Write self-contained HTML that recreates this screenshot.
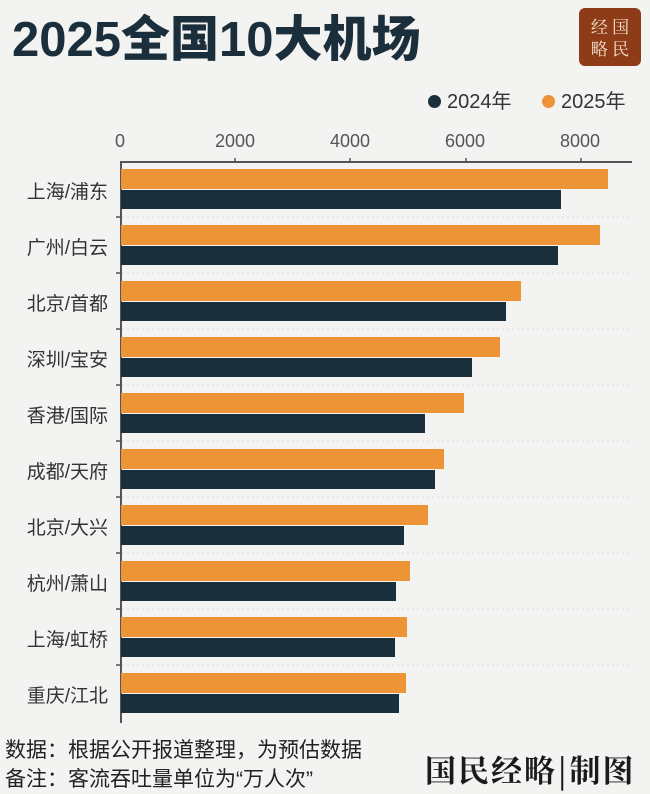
<!DOCTYPE html>
<html><head><meta charset="utf-8"><style>
body{margin:0;width:650px;height:794px;background:#f3f3f2;position:relative;overflow:hidden;font-family:"Liberation Sans","Noto Sans CJK SC",sans-serif;}
.a{position:absolute;}
.t{left:12px;top:10px;font-size:49px;font-weight:900;color:#1b2e3c;line-height:60px;white-space:nowrap;}
.logo{left:579px;top:8px;width:62px;height:58px;background:#8e3b17;border-radius:6px;color:#f3e3d0;font-family:"Noto Serif CJK SC",serif;font-size:17px;line-height:22px;text-align:center;padding-top:7px;box-sizing:border-box;}
.leg{top:85px;font-size:20px;color:#333;}
.dot{display:inline-block;width:13px;height:13px;border-radius:50%;vertical-align:0px;margin-right:6px;}
.tick{top:131px;font-size:18px;color:#555;width:60px;text-align:center;}
.cat{left:0;width:108px;text-align:right;font-size:19px;color:#333;white-space:nowrap;}
.o{background:#ec9436;height:20px;left:121px;}
.d{background:#1a2f3c;height:19px;left:121px;}
.foot{left:5px;font-size:21px;color:#222;white-space:nowrap;}
</style></head><body>
<div class="a t">2025全国10大机场</div>
<div class="a logo">经 国<br>略 民</div>
<div class="a leg" style="left:428px"><span class="dot" style="background:#1a2f3c"></span>2024年</div>
<div class="a leg" style="left:542px"><span class="dot" style="background:#ec9436"></span>2025年</div>
<div class="a tick" style="left:90px">0</div>
<div class="a tick" style="left:205px">2000</div>
<div class="a tick" style="left:320px">4000</div>
<div class="a tick" style="left:435px">6000</div>
<div class="a tick" style="left:550px">8000</div>
<div class="a" style="left:120px;top:161px;width:512px;height:2px;background:#555"></div>
<div class="a" style="left:120px;top:161px;width:2px;height:562px;background:#555"></div>
<svg class="a" style="left:0;top:0" width="650" height="794">
<g stroke="#555" stroke-width="1.5">
<line x1="235" y1="158" x2="235" y2="162"/><line x1="350" y1="158" x2="350" y2="162"/><line x1="466" y1="158" x2="466" y2="162"/><line x1="581" y1="158" x2="581" y2="162"/>
</g>
<g stroke="#ddd" stroke-dasharray="2,3">
<line x1="122" y1="217" x2="632" y2="217"/><line x1="122" y1="273" x2="632" y2="273"/><line x1="122" y1="329" x2="632" y2="329"/><line x1="122" y1="385" x2="632" y2="385"/><line x1="122" y1="441" x2="632" y2="441"/><line x1="122" y1="497" x2="632" y2="497"/><line x1="122" y1="553" x2="632" y2="553"/><line x1="122" y1="609" x2="632" y2="609"/><line x1="122" y1="665" x2="632" y2="665"/>
</g>
<g stroke="#555" stroke-width="1.5">
<line x1="116" y1="217" x2="121" y2="217"/><line x1="116" y1="273" x2="121" y2="273"/><line x1="116" y1="329" x2="121" y2="329"/><line x1="116" y1="385" x2="121" y2="385"/><line x1="116" y1="441" x2="121" y2="441"/><line x1="116" y1="497" x2="121" y2="497"/><line x1="116" y1="553" x2="121" y2="553"/><line x1="116" y1="609" x2="121" y2="609"/><line x1="116" y1="665" x2="121" y2="665"/>
</g>
</svg>
<div class="a cat" style="top:177px">上海/浦东</div>
<div class="a o" style="top:169px;width:487px"></div><div class="a d" style="top:190px;width:440px"></div>
<div class="a cat" style="top:233px">广州/白云</div>
<div class="a o" style="top:225px;width:479px"></div><div class="a d" style="top:246px;width:437px"></div>
<div class="a cat" style="top:289px">北京/首都</div>
<div class="a o" style="top:281px;width:400px"></div><div class="a d" style="top:302px;width:385px"></div>
<div class="a cat" style="top:345px">深圳/宝安</div>
<div class="a o" style="top:337px;width:379px"></div><div class="a d" style="top:358px;width:351px"></div>
<div class="a cat" style="top:401px">香港/国际</div>
<div class="a o" style="top:393px;width:343px"></div><div class="a d" style="top:414px;width:304px"></div>
<div class="a cat" style="top:457px">成都/天府</div>
<div class="a o" style="top:449px;width:323px"></div><div class="a d" style="top:470px;width:314px"></div>
<div class="a cat" style="top:513px">北京/大兴</div>
<div class="a o" style="top:505px;width:307px"></div><div class="a d" style="top:526px;width:283px"></div>
<div class="a cat" style="top:569px">杭州/萧山</div>
<div class="a o" style="top:561px;width:289px"></div><div class="a d" style="top:582px;width:275px"></div>
<div class="a cat" style="top:625px">上海/虹桥</div>
<div class="a o" style="top:617px;width:286px"></div><div class="a d" style="top:638px;width:274px"></div>
<div class="a cat" style="top:681px">重庆/江北</div>
<div class="a o" style="top:673px;width:285px"></div><div class="a d" style="top:694px;width:278px"></div>
<div class="a foot" style="top:734px">数据：根据公开报道整理，为预估数据</div>
<div class="a foot" style="top:763px">备注：客流吞吐量单位为“万人次”</div>
<div class="a" style="left:425px;top:746px;font-size:31px;font-weight:bold;color:#1a1a1a;font-family:'Noto Serif CJK SC',serif;letter-spacing:2px;white-space:nowrap">国民经略|制图</div>
</body></html>
